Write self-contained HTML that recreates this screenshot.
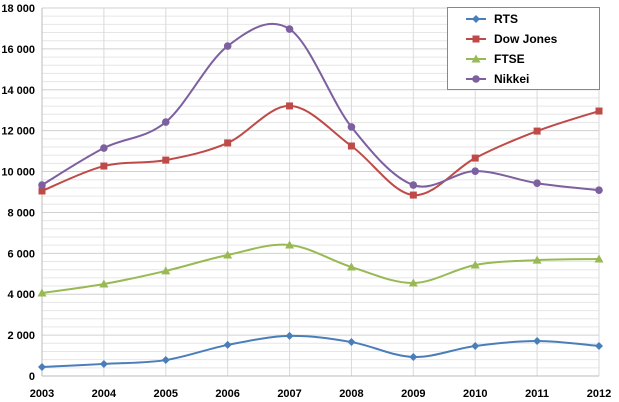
<!DOCTYPE html>
<html><head><meta charset="utf-8"><style>
body{margin:0;background:#fff;}
svg{display:block;font-family:"Liberation Sans",Arial,sans-serif;}
</style></head><body>
<svg id="c" width="619" height="402" viewBox="0 0 619 402"></svg>
<script>
const categories=["2003","2004","2005","2006","2007","2008","2009","2010","2011","2012"];
const rts=[440,590,780,1520,1960,1660,930,1470,1710,1470];
const dow=[9050,10270,10560,11400,13210,11250,8850,10660,11980,12960];
const ftse=[4060,4500,5140,5920,6410,5330,4550,5430,5670,5720];
const nikkei=[9340,11150,12420,16140,16970,12180,9340,10020,9430,9090];
const yTicks=[0,2000,4000,6000,8000,10000,12000,14000,16000,18000];
const yTickLabels=["0","2 000","4 000","6 000","8 000","10 000","12 000","14 000","16 000","18 000"];
const NS="http://www.w3.org/2000/svg";
const svg=document.getElementById('c');
const L=42,R=599,T=8,B=376;
const x=i=>L+i*(R-L)/(categories.length-1);
const y=v=>B-v/18000*(B-T);
function mk(t,a,p){const e=document.createElementNS(NS,t);for(const k in a)e.setAttribute(k,a[k]);(p||svg).appendChild(e);return e;}
const grid=mk('g',{});


for(let v=0;v<=18000;v+=400){mk('line',{x1:L,x2:R,y1:y(v),y2:y(v),stroke:v%2000==0?'#d0d0d0':'#e6e6e6','stroke-width':1},grid);}
categories.forEach((c,i)=>{mk('line',{x1:x(i),x2:x(i),y1:T,y2:B,stroke:'#d9d9d9'},grid);});
mk('line',{x1:L,x2:L,y1:T,y2:B,stroke:'#bbb'});
mk('line',{x1:L,x2:R,y1:B,y2:B,stroke:'#bbb'});
yTicks.forEach((v,i)=>{const t=mk('text',{x:35,y:y(v)+4,'text-anchor':'end','font-size':11,'font-weight':'bold',fill:'#000'});t.textContent=yTickLabels[i];

});
categories.forEach((c,i)=>{const t=mk('text',{x:x(i),y:397,'text-anchor':'middle','font-size':11,'font-weight':'bold',fill:'#000'});t.textContent=c;

});
function path(vals){const p=vals.map((v,i)=>[x(i),y(v)]);let d='M'+p[0];for(let i=0;i<p.length-1;i++){const p0=p[i-1]||p[i],p1=p[i],p2=p[i+1],p3=p[i+2]||p2;const k=1/6;d+=` C${p1[0]+(p2[0]-p0[0])*k},${p1[1]+(p2[1]-p0[1])*k} ${p2[0]-(p3[0]-p1[0])*k},${p2[1]-(p3[1]-p1[1])*k} ${p2[0]},${p2[1]}`;}return d;}
function marker(sh,cx,cy,col,g){if(sh=='diamond')return mk('polygon',{points:`${cx},${cy-4} ${cx+4},${cy} ${cx},${cy+4} ${cx-4},${cy}`,fill:col},g);if(sh=='square')return mk('rect',{x:cx-3.5,y:cy-3.5,width:7,height:7,fill:col},g);if(sh=='tri')return mk('polygon',{points:`${cx},${cy-4.5} ${cx+4.5},${cy+3.5} ${cx-4.5},${cy+3.5}`,fill:col},g);return mk('circle',{cx,cy,r:3.8,fill:col},g);}
const series=[["RTS",rts,"#4a7ebb","diamond","series-rts"],["Dow Jones",dow,"#be4b48","square","series-dow-jones"],["FTSE",ftse,"#98b954","tri","series-ftse"],["Nikkei",nikkei,"#7d60a0","circle","series-nikkei"]];
series.forEach(([n,vals,col,sh,dn])=>{const g=mk('g',{});
mk('path',{d:path(vals),fill:'none',stroke:col,'stroke-width':2},g);
vals.forEach((v,i)=>{const m=marker(sh,x(i),y(v),col,g);});});
const lg=mk('g',{});
mk('rect',{x:447.5,y:7.5,width:152,height:82,fill:'#fff',stroke:'#888'},lg);
series.forEach(([n,vals,col,sh],i)=>{const yy=19+i*20;const e=mk('g',{},lg);
mk('line',{x1:466,x2:486,y1:yy,y2:yy,stroke:col,'stroke-width':2},e);marker(sh,476,yy,col,e);
const t=mk('text',{x:494,y:yy+4,'font-size':12,'font-weight':'bold',fill:'#000'},e);t.textContent=n;});
</script>
</body></html>
